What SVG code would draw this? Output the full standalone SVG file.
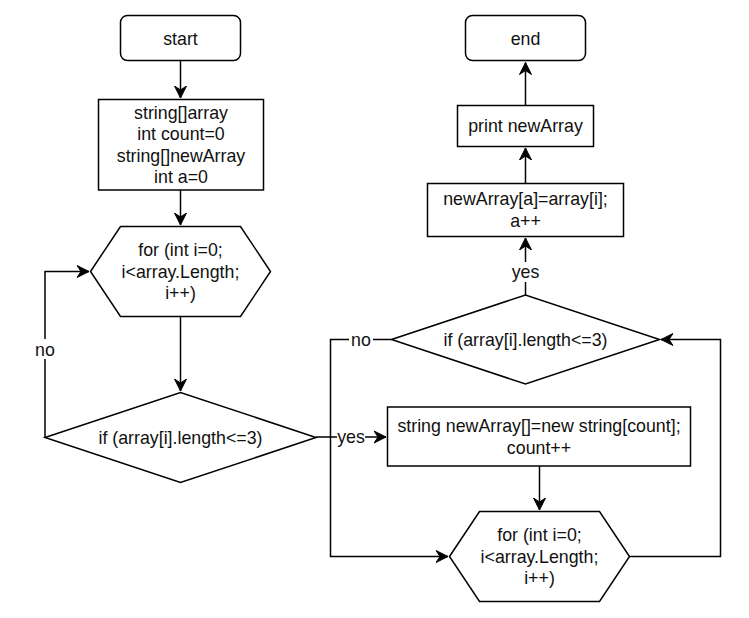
<svg xmlns="http://www.w3.org/2000/svg" width="749" height="618" viewBox="0 0 749 618">
<style>
.s{fill:#fff;stroke:#000;stroke-width:1.5}
.c{fill:none;stroke:#000;stroke-width:1.5}
text{font-family:"Liberation Sans",Arial,sans-serif;font-size:17.8px;fill:#111;text-anchor:middle}
.lb{fill:#fff}
</style>
<defs>
<marker id="a" markerUnits="userSpaceOnUse" markerWidth="14" markerHeight="14" viewBox="-12 -7 14 14" refX="0" refY="0" orient="auto">
<path d="M0,0 L-12,-6 L-8,0 L-12,6 z" fill="#000" stroke="#000" stroke-width="1"/>
</marker>
</defs>
<rect width="749" height="618" fill="#fff"/>
<g id="connectors">
<path class="c" d="M180.5,61 V98" marker-end="url(#a)"/>
<path class="c" d="M180.5,190 V225" marker-end="url(#a)"/>
<path class="c" d="M180.5,316.5 V391" marker-end="url(#a)"/>
<path class="c" d="M45,437.5 V271.5 H89" marker-end="url(#a)"/>
<path class="c" d="M316,437 H386" marker-end="url(#a)"/>
<path class="c" d="M539.5,466 V510" marker-end="url(#a)"/>
<path class="c" d="M391.5,339.5 H330.5 V556.5 H448" marker-end="url(#a)"/>
<path class="c" d="M629.5,556.5 H720.5 V339.5 H661" marker-end="url(#a)"/>
<path class="c" d="M525.5,295 V238" marker-end="url(#a)"/>
<path class="c" d="M525.5,183.5 V148" marker-end="url(#a)"/>
<path class="c" d="M525.5,105.5 V62.5" marker-end="url(#a)"/>
<rect class="lb" x="34" y="339" width="22" height="20"/>
<text x="45" y="355.5">no</text>
<rect class="lb" x="337" y="427" width="28" height="20"/>
<text x="351" y="443">yes</text>
<rect class="lb" x="349" y="330" width="24" height="20"/>
<text x="361" y="345.8">no</text>
<rect class="lb" x="511" y="262" width="29" height="20"/>
<text x="525.5" y="278">yes</text>
</g>
<g id="start">
<rect class="s" x="120.5" y="15.5" width="120" height="45" rx="7"/>
<text x="180.5" y="44.5">start</text>
</g>
<g id="init">
<rect class="s" x="98.5" y="99.5" width="165" height="90.5"/>
<text x="181" y="118.6">string[]array</text>
<text x="181" y="140.2">int count=0</text>
<text x="181" y="161.8">string[]newArray</text>
<text x="181" y="183.4">int a=0</text>
</g>
<g id="for1">
<polygon class="s" points="90.5,271.5 120.5,226.5 240.5,226.5 270.5,271.5 240.5,316.5 120.5,316.5"/>
<text x="180.5" y="256.2">for (int i=0;</text>
<text x="180.5" y="277.8">i&lt;array.Length;</text>
<text x="180.5" y="299.4">i++)</text>
</g>
<g id="if1">
<polygon class="s" points="45,437.5 180.5,392.5 316,437.5 180.5,482.5"/>
<text x="180.5" y="443.8">if (array[i].length&lt;=3)</text>
</g>
<g id="newarr">
<rect class="s" x="387.5" y="407" width="303" height="59"/>
<text x="539" y="432">string newArray[]=new string[count];</text>
<text x="539" y="453.6">count++</text>
</g>
<g id="for2">
<polygon class="s" points="449.5,556.5 479.5,511.5 599.5,511.5 629.5,556.5 599.5,601.5 479.5,601.5"/>
<text x="539.5" y="541.2">for (int i=0;</text>
<text x="539.5" y="562.8">i&lt;array.Length;</text>
<text x="539.5" y="584.4">i++)</text>
</g>
<g id="if2">
<polygon class="s" points="391.5,339.5 525.5,295 659.5,339.5 525.5,384"/>
<text x="525.5" y="345.8">if (array[i].length&lt;=3)</text>
</g>
<g id="assign">
<rect class="s" x="427.5" y="183.5" width="196" height="53"/>
<text x="525.5" y="205.3">newArray[a]=array[i];</text>
<text x="525.5" y="226.9">a++</text>
</g>
<g id="print">
<rect class="s" x="457.5" y="105.5" width="136" height="41"/>
<text x="525.5" y="132.3">print newArray</text>
</g>
<g id="end">
<rect class="s" x="465.5" y="15.5" width="120" height="45" rx="7"/>
<text x="525.5" y="44.5">end</text>
</g>
</svg>
